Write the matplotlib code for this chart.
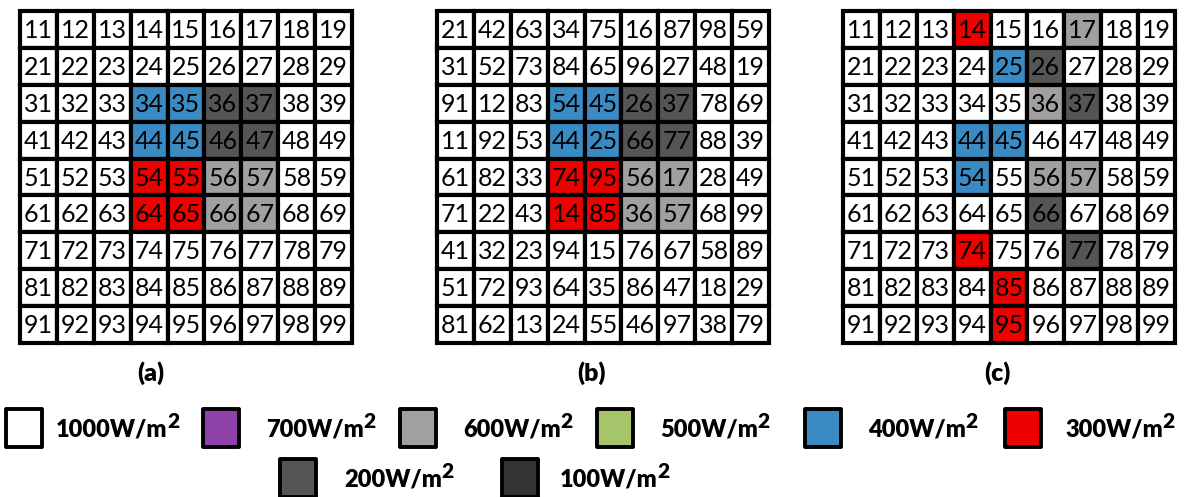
import matplotlib.pyplot as plt
from matplotlib.patches import Rectangle

# Panel numbering, row by row
labels_a = [
    [11, 12, 13, 14, 15, 16, 17, 18, 19],
    [21, 22, 23, 24, 25, 26, 27, 28, 29],
    [31, 32, 33, 34, 35, 36, 37, 38, 39],
    [41, 42, 43, 44, 45, 46, 47, 48, 49],
    [51, 52, 53, 54, 55, 56, 57, 58, 59],
    [61, 62, 63, 64, 65, 66, 67, 68, 69],
    [71, 72, 73, 74, 75, 76, 77, 78, 79],
    [81, 82, 83, 84, 85, 86, 87, 88, 89],
    [91, 92, 93, 94, 95, 96, 97, 98, 99],
]
labels_b = [
    [21, 42, 63, 34, 75, 16, 87, 98, 59],
    [31, 52, 73, 84, 65, 96, 27, 48, 19],
    [91, 12, 83, 54, 45, 26, 37, 78, 69],
    [11, 92, 53, 44, 25, 66, 77, 88, 39],
    [61, 82, 33, 74, 95, 56, 17, 28, 49],
    [71, 22, 43, 14, 85, 36, 57, 68, 99],
    [41, 32, 23, 94, 15, 76, 67, 58, 89],
    [51, 72, 93, 64, 35, 86, 47, 18, 29],
    [81, 62, 13, 24, 55, 46, 97, 38, 79],
]
labels_c = labels_a

# Irradiance (W/m^2) seen by each cell
shade_a = [
    [1000, 1000, 1000, 1000, 1000, 1000, 1000, 1000, 1000],
    [1000, 1000, 1000, 1000, 1000, 1000, 1000, 1000, 1000],
    [1000, 1000, 1000, 400, 400, 200, 200, 1000, 1000],
    [1000, 1000, 1000, 400, 400, 200, 200, 1000, 1000],
    [1000, 1000, 1000, 300, 300, 600, 600, 1000, 1000],
    [1000, 1000, 1000, 300, 300, 600, 600, 1000, 1000],
    [1000, 1000, 1000, 1000, 1000, 1000, 1000, 1000, 1000],
    [1000, 1000, 1000, 1000, 1000, 1000, 1000, 1000, 1000],
    [1000, 1000, 1000, 1000, 1000, 1000, 1000, 1000, 1000],
]
shade_b = shade_a
shade_c = [
    [1000, 1000, 1000, 300, 1000, 1000, 600, 1000, 1000],
    [1000, 1000, 1000, 1000, 400, 200, 1000, 1000, 1000],
    [1000, 1000, 1000, 1000, 1000, 600, 200, 1000, 1000],
    [1000, 1000, 1000, 400, 400, 1000, 1000, 1000, 1000],
    [1000, 1000, 1000, 400, 1000, 600, 600, 1000, 1000],
    [1000, 1000, 1000, 1000, 1000, 200, 1000, 1000, 1000],
    [1000, 1000, 1000, 300, 1000, 1000, 200, 1000, 1000],
    [1000, 1000, 1000, 1000, 300, 1000, 1000, 1000, 1000],
    [1000, 1000, 1000, 1000, 300, 1000, 1000, 1000, 1000],
]
panel_names = ["(a)", "(b)", "(c)"]

legend_levels = [1000, 700, 600, 500, 400, 300, 200, 100]
colors = {
    1000: "#ffffff",
    700: "#8e41a9",
    600: "#a0a0a0",
    500: "#a6c56b",
    400: "#3a8bc4",
    300: "#ee0000",
    200: "#555555",
    100: "#333333",
}


def main():
    plt.rcParams['font.family'] = ['Lato', 'DejaVu Sans']

    fig = plt.figure(figsize=(11.88, 4.97), dpi=100)
    ax = fig.add_axes([0, 0, 1, 1])
    ax.set_xlim(0, 1188)
    ax.set_ylim(497, 0)
    ax.axis('off')

    # Three 9x9 arrays, drawn in pixel space
    grid_x = [20, 437, 843]
    grid_y = 11
    cell = 332 / 9
    name_x = [151, 592, 997]
    for g, (labels, shade) in enumerate([(labels_a, shade_a), (labels_b, shade_b), (labels_c, shade_c)]):
        for r in range(9):
            for c in range(9):
                x0 = grid_x[g] + c * cell
                y0 = grid_y + r * cell
                ax.add_patch(Rectangle((x0, y0), cell, cell, facecolor=colors[shade[r][c]],
                                       edgecolor='black', linewidth=3.0))
                ax.text(x0 + cell / 2, y0 + cell / 2 + 1, str(labels[r][c]), ha='center', va='center',
                        fontsize=18, color='black')
        ax.text(name_x[g], 373, panel_names[g], ha='center', va='center', fontsize=18, fontweight='heavy')

    # Legend, two rows
    box_x = [6, 203, 400, 597, 805, 1005, 280, 502]
    text_x = [56, 266, 463, 660, 868, 1065, 344, 560]
    row_y = [428, 478]
    box_w, box_h = 36, 38
    for i, level in enumerate(legend_levels):
        y = row_y[0] if i < 6 else row_y[1]
        ax.add_patch(Rectangle((box_x[i], y - box_h / 2), box_w, box_h, facecolor=colors[level],
                               edgecolor='black', linewidth=2.8, joinstyle='round'))
        t = ax.text(text_x[i], y + 2, f"{level}W/m", ha='left', va='center',
                    fontsize=17, fontweight='heavy')
        # large raised exponent, as in the original
        ax.annotate("2", xy=(1.0, 0.45), xycoords=t, ha='left', va='bottom',
                    fontsize=15, fontweight='heavy')

    fig.savefig("out.png", dpi=100)


if __name__ == '__main__':
    main()
